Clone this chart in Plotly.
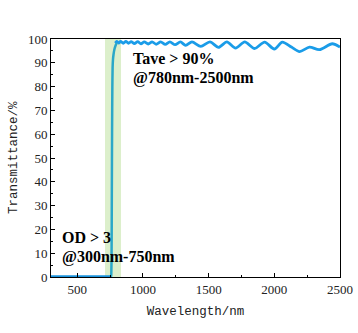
import plotly.graph_objects as go

# blocking region + edge (teal)
edge_wl = [755, 758, 761, 763, 765, 767, 769, 772, 776, 782, 790, 800]
edge_t  = [0.0, 0.5, 8.0, 35.0, 62.0, 80.0, 88.0, 91.5, 93.5, 95.5, 97.0, 98.3]

# blocking band (blue, flat at ~0)
block_wl = [300, 400, 500, 600, 700, 757]
block_t  = [0.2, 0.2, 0.2, 0.2, 0.2, 0.2]

# pass band (blue)
pass_wl = [790, 800, 815, 830, 850, 870, 890, 910, 935, 960, 985, 1010, 1040, 1070,
           1100, 1135, 1170, 1205, 1245, 1285, 1325, 1373, 1440, 1510, 1575, 1639,
           1705, 1775, 1850, 1926, 2000, 2061, 2130, 2192, 2268, 2343, 2441, 2500]
pass_t  = [98.3, 99.0, 98.3, 99.0, 98.2, 99.0, 98.2, 98.9, 98.1, 98.9, 98.0, 98.8, 97.9, 98.8,
           97.8, 98.8, 97.7, 98.8, 97.6, 98.8, 97.3, 98.8, 96.9, 98.8, 96.5, 98.8,
           96.2, 98.8, 96.0, 98.7, 95.8, 98.7, 96.6, 94.7, 96.6, 95.5, 98.0, 96.6]

band_x = [711, 833]

x_ticks = [500, 1000, 1500, 2000, 2500]
y_ticks = [0, 10, 20, 30, 40, 50, 60, 70, 80, 90, 100]

fig = go.Figure()
fig.add_vrect(x0=band_x[0], x1=band_x[1], fillcolor="#dcefcb", line_width=0, layer="below")
fig.add_trace(go.Scatter(x=block_wl, y=block_t, mode="lines",
                         line=dict(color="#1b93dc", width=2.5)))
fig.add_trace(go.Scatter(x=pass_wl, y=pass_t, mode="lines",
                         line=dict(color="#1a9ce8", width=2.8, shape="spline", smoothing=0.8)))
fig.add_trace(go.Scatter(x=edge_wl, y=edge_t, mode="lines",
                         line=dict(color="#2aa8c8", width=2.5, shape="spline", smoothing=0.5)))

fig.add_annotation(x=909, y=92, xanchor="left", yanchor="middle", showarrow=False,
                   text="<b>Tave > 90%</b>",
                   font=dict(family="Liberation Serif", size=16, color="black"))
fig.add_annotation(x=909, y=83.6, xanchor="left", yanchor="middle", showarrow=False,
                   text="<b>@780nm-2500nm</b>",
                   font=dict(family="Liberation Serif", size=16, color="black"))
fig.add_annotation(x=368, y=16.5, xanchor="left", yanchor="middle", showarrow=False,
                   text="<b>OD > 3</b>",
                   font=dict(family="Liberation Serif", size=16, color="black"))
fig.add_annotation(x=368, y=8.4, xanchor="left", yanchor="middle", showarrow=False,
                   text="<b>@300nm-750nm</b>",
                   font=dict(family="Liberation Serif", size=16, color="black"))
# y-axis title
fig.add_annotation(xref="paper", yref="paper", x=-0.128, y=0.5, textangle=-90,
                   xanchor="center", yanchor="middle", showarrow=False,
                   text="Transmittance/%",
                   font=dict(family="Liberation Mono", size=12.5, color="#222"))

fig.update_layout(
    width=358, height=333,
    margin=dict(l=51, r=18, t=39, b=56),
    paper_bgcolor="white", plot_bgcolor="white",
    showlegend=False,
    xaxis=dict(range=[300, 2500], tickvals=x_ticks, ticktext=[str(v) for v in x_ticks],
               automargin=False,
               ticks="inside", ticklen=4, tickcolor="black", tickwidth=1,
               minor=dict(ticks="inside", ticklen=2, dtick=250, tick0=250, tickcolor="black"),
               showline=True, linecolor="black", linewidth=1, mirror=True,
               showgrid=False, zeroline=False,
               tickfont=dict(family="Liberation Serif", size=13, color="#222"),
               title=dict(text="Wavelength/nm", standoff=10,
                          font=dict(family="Liberation Mono", size=12.5, color="#222"))),
    yaxis=dict(range=[0, 100], tickvals=y_ticks, ticktext=[str(v) for v in y_ticks],
               automargin=False,
               ticks="inside", ticklen=4, tickcolor="black", tickwidth=1,
               minor=dict(ticks="inside", ticklen=2, dtick=5, tick0=0, tickcolor="black"),
               showline=True, linecolor="black", linewidth=1, mirror=True,
               showgrid=False, zeroline=False,
               tickfont=dict(family="Liberation Serif", size=13, color="#222")),
)

fig.write_html("out.html")
